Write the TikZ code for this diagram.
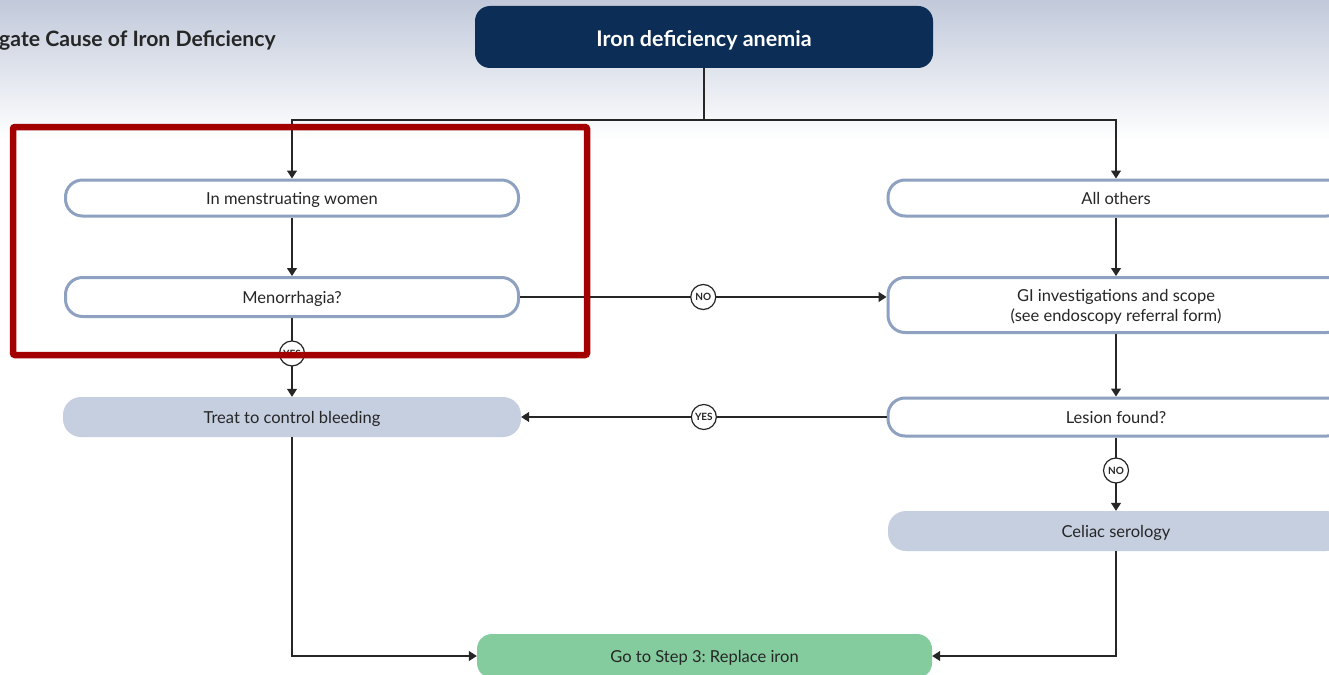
\documentclass[tikz,border=0pt]{standalone}
\usepackage{fontspec}
\setmainfont{Lato}
\usetikzlibrary{arrows.meta,positioning}
\definecolor{navy}{HTML}{0C2D55}
\definecolor{edgeblue}{HTML}{8EA1C0}
\definecolor{paleblue}{HTML}{C6CFE0}
\definecolor{mint}{HTML}{84CB9E}
\definecolor{ink}{HTML}{262626}
\definecolor{alert}{HTML}{A30000}
\definecolor{skytop}{HTML}{C1C9DA}
\tikzset{
  boxtext/.style={text=ink, font=\fontsize{16.5}{20}\selectfont, text depth=0pt},
  outlinebox/.style={draw=edgeblue, line width=3pt, fill=white, rounded corners=17pt,
    minimum width=453pt, minimum height=36pt, inner sep=0pt, boxtext},
  filledbox/.style={fill=paleblue, rounded corners=18pt,
    minimum width=458pt, minimum height=40pt, inner sep=0pt, boxtext},
  link/.style={draw=ink, line width=1.2pt},
  arr/.style={link, -{Triangle[length=8pt,width=10pt]}},
  answer/.style={circle, draw=ink, line width=1.2pt, fill=white, minimum size=25pt, inner sep=0pt,
    text=ink, font=\bfseries\fontsize{10}{10}\selectfont},
}
\begin{document}
\frenchspacing
\begin{tikzpicture}[x=1pt,y=-1pt]
\useasboundingbox (0,0) rectangle (1329,674);
\clip (0,0) rectangle (1329,674);
% page background: bluish band fading to white
\fill[white] (0,0) rectangle (1329,674);
\shade[top color=skytop, bottom color=white] (0,0) rectangle (1329,140);

% heading
\node[anchor=base west, inner sep=0pt, text=ink, font=\bfseries\fontsize{21.2}{24}\selectfont] (heading) at (-1,47) {gate Cause of Iron Deficiency};

% start
\node[fill=navy, rounded corners=15pt, minimum width=458pt, minimum height=62pt, inner sep=0pt,
  text=white, text depth=0pt, font=\bfseries\fontsize{21.5}{24}\selectfont] (ida) at (704,37) {\raisebox{-2pt}{Iron deficiency anemia}};

% left branch
\node[outlinebox] (women) at (292,198) {In menstruating women};
\node[outlinebox, minimum height=39pt] (meno) at (292,297) {Menorrhagia?};
\node[filledbox] (treat) at (292,417) {Treat to control bleeding};

% right branch
\node[outlinebox, minimum width=456pt] (others) at (1116,198) {All others};
\node[outlinebox, minimum width=456pt, minimum height=55pt, align=center] (gi) at (1116,305)
  {GI investigations and scope\\(see endoscopy referral form)};
\node[outlinebox, minimum width=456pt, minimum height=38pt] (lesion) at (1116,417) {Lesion found?};
\node[filledbox, minimum width=456pt] (celiac) at (1116,531) {Celiac serology};

% end
\node[fill=mint, rounded corners=15pt, minimum width=455pt, minimum height=44pt, inner sep=0pt,
  boxtext] (iron) at (704.5,656) {Go to Step 3: Replace iron};

% connectors
\coordinate (split) at (704,120);
\draw[link] (ida.south) -- (split);
\draw[arr] (split) -| (women.north);
\draw[arr] (split) -| (others.north);
\draw[arr] (women) -- (meno);
\draw[arr] (meno.east) -- node[answer] {NO} (meno.east -| gi.west);
\draw[arr] (meno.south) -- node[answer, pos=0.45] {YES} (treat.north);
\draw[arr] (others) -- (gi);
\draw[arr] (gi) -- (lesion);
\draw[arr] (lesion.west) -- node[answer] {YES} (treat.east);
\draw[arr] (lesion.south) -- node[answer, pos=0.45] {NO} (celiac.north);
\draw[arr] (treat.south) |- (iron.west);
\draw[arr] (celiac.south) |- (iron.east);

% highlight frame round the menstruation branch
\draw[alert, line width=6.5pt, rounded corners=2pt] (13,127) rectangle (587,355);
\end{tikzpicture}
\end{document}
